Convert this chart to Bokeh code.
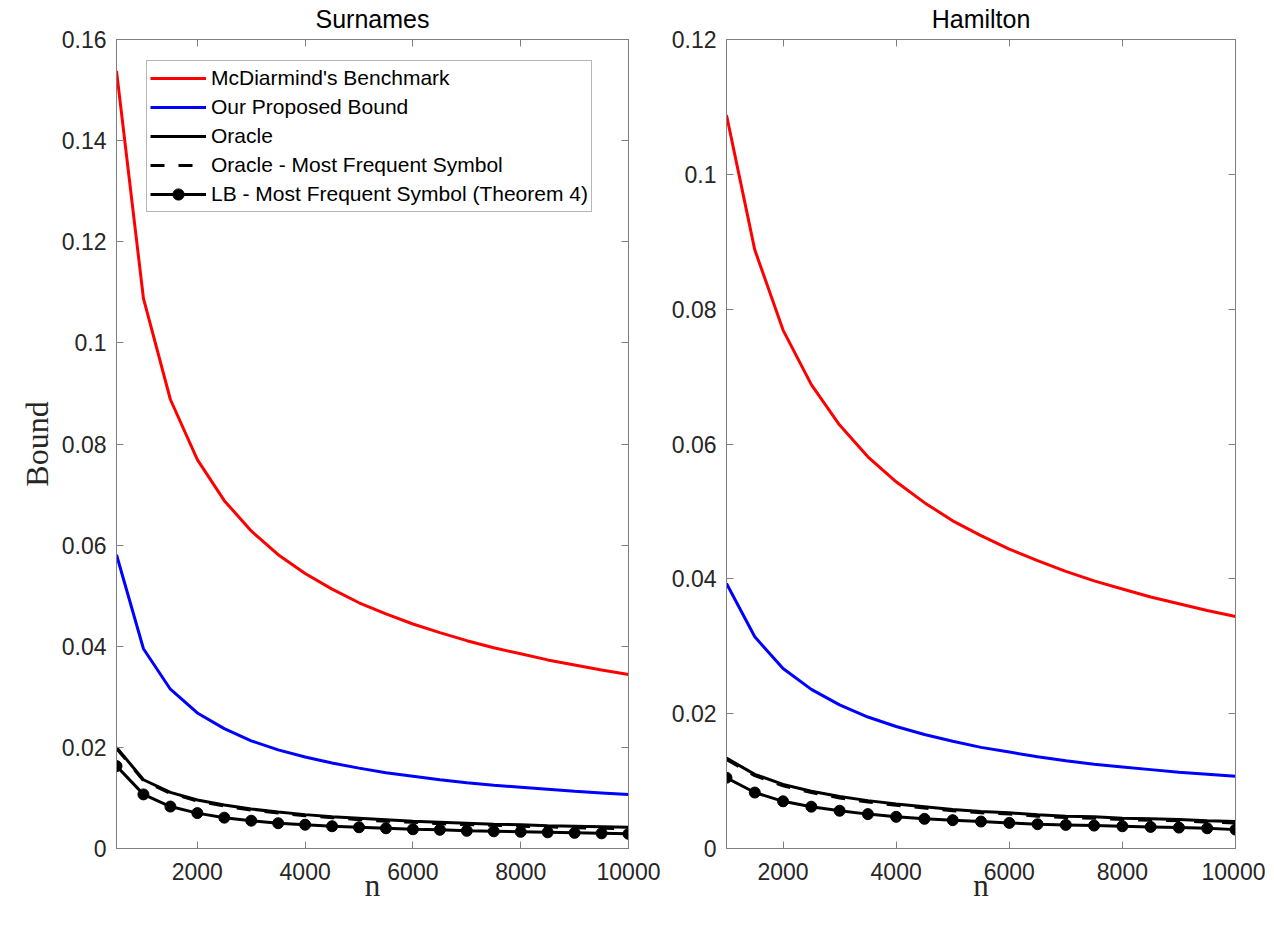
from bokeh.plotting import figure
from bokeh.layouts import row
from bokeh.models import (Range1d, FixedTicker, CustomJSTickFormatter, LinearAxis,
                          Legend, LegendItem)
from bokeh.embed import file_html
from bokeh.resources import INLINE

# ---------------- data ----------------
n_sur = [500, 1000, 1500, 2000, 2500, 3000, 3500, 4000, 4500, 5000,
         5500, 6000, 6500, 7000, 7500, 8000, 8500, 9000, 9500, 10000]
mcd_sur = [0.1538, 0.1088, 0.0888, 0.0769, 0.0688, 0.0628, 0.0581, 0.0544, 0.0513, 0.0486,
           0.0464, 0.0444, 0.0427, 0.0411, 0.0397, 0.0385, 0.0373, 0.0363, 0.0353, 0.0344]
ours_sur = [0.0581, 0.0395, 0.0315, 0.0268, 0.0237, 0.0213, 0.0195, 0.0181, 0.0169, 0.0159,
            0.0150, 0.0143, 0.0136, 0.0130, 0.0125, 0.0121, 0.0117, 0.0113, 0.0110, 0.0107]
oracle_sur = [0.0200, 0.0136, 0.0111, 0.0096, 0.0086, 0.0078, 0.0072, 0.0067, 0.0063, 0.0060,
              0.0057, 0.0054, 0.0052, 0.0050, 0.0048, 0.0047, 0.0045, 0.0044, 0.0043, 0.0042]
oracle_mfs_sur = [0.0198, 0.0134, 0.0109, 0.0094, 0.0084, 0.0076, 0.0070, 0.0065, 0.0061, 0.0057,
                  0.0054, 0.0052, 0.0049, 0.0047, 0.0046, 0.0044, 0.0043, 0.0041, 0.0040, 0.0039]
lb_sur = [0.0163, 0.0107, 0.0083, 0.0070, 0.0061, 0.0055, 0.0050, 0.0047, 0.0044, 0.0042,
          0.0040, 0.0038, 0.0037, 0.0035, 0.0034, 0.0033, 0.0032, 0.0031, 0.0030, 0.0029]

n_ham = [1000, 1500, 2000, 2500, 3000, 3500, 4000, 4500, 5000,
         5500, 6000, 6500, 7000, 7500, 8000, 8500, 9000, 9500, 10000]
mcd_ham = [0.1088, 0.0888, 0.0769, 0.0688, 0.0628, 0.0581, 0.0544, 0.0513, 0.0486,
           0.0464, 0.0444, 0.0427, 0.0411, 0.0397, 0.0385, 0.0373, 0.0363, 0.0353, 0.0344]
ours_ham = [0.0393, 0.0314, 0.0267, 0.0236, 0.0213, 0.0195, 0.0181, 0.0169, 0.0159,
            0.0150, 0.0143, 0.0136, 0.0130, 0.0125, 0.0121, 0.0117, 0.0113, 0.0110, 0.0107]
oracle_ham = [0.0134, 0.0110, 0.0095, 0.0085, 0.0077, 0.0071, 0.0066, 0.0062, 0.0058,
              0.0055, 0.0053, 0.0050, 0.0048, 0.0047, 0.0045, 0.0044, 0.0043, 0.0041, 0.0040]
oracle_mfs_ham = [0.0132, 0.0108, 0.0093, 0.0083, 0.0075, 0.0069, 0.0064, 0.0060, 0.0056,
                  0.0053, 0.0051, 0.0048, 0.0046, 0.0045, 0.0043, 0.0042, 0.0041, 0.0039, 0.0038]
lb_ham = [0.0105, 0.0083, 0.0070, 0.0062, 0.0056, 0.0051, 0.0047, 0.0044, 0.0042,
          0.0040, 0.0038, 0.0036, 0.0035, 0.0034, 0.0033, 0.0032, 0.0031, 0.0030, 0.0028]

x_ticks = [2000, 4000, 6000, 8000, 10000]
y_ticks_sur = [0, 0.02, 0.04, 0.06, 0.08, 0.1, 0.12, 0.14, 0.16]
y_ticks_ham = [0, 0.02, 0.04, 0.06, 0.08, 0.1, 0.12]

legend_labels = ["McDiarmind's Benchmark", "Our Proposed Bound", "Oracle",
                 "Oracle - Most Frequent Symbol", "LB - Most Frequent Symbol (Theorem 4)"]

AX = "#808080"
TXT = "#262626"
SANS = "Liberation Sans"
SERIF = "Liberation Serif"

yfmt_code = "return tick == 0 ? '0' : String(parseFloat(tick.toFixed(3)));"
xfmt_code = "return String(Math.round(tick));"
blank_code = "return '';"


def make_fig(title, n, mcd, ours, orc, orc_mfs, lb, xr, yr, yticks, width,
             bl, br, ylabel, with_legend):
    p = figure(width=width, height=919, output_backend="svg", toolbar_location=None,
               x_range=Range1d(*xr), y_range=Range1d(*yr),
               min_border_left=bl, min_border_right=br,
               min_border_top=39, min_border_bottom=71,
               x_axis_type=None, y_axis_type=None)
    p.grid.visible = False
    p.outline_line_color = AX
    p.outline_line_width = 1
    p.background_fill_color = "white"
    p.border_fill_color = "white"

    def style(ax, labels=True):
        ax.axis_line_color = AX
        ax.major_tick_line_color = AX
        ax.major_tick_in = 7
        ax.major_tick_out = 0
        ax.minor_tick_line_color = None
        ax.major_label_text_color = TXT
        ax.major_label_text_font = SANS
        ax.major_label_text_font_size = "23px"
        ax.major_label_standoff = 10 if labels else 0

    xb = LinearAxis(ticker=FixedTicker(ticks=x_ticks),
                    formatter=CustomJSTickFormatter(code=xfmt_code))
    style(xb)
    xb.major_label_standoff = 14
    xb.axis_label = "n"
    xb.axis_label_text_font = SERIF
    xb.axis_label_text_font_style = "normal"
    xb.axis_label_text_font_size = "31px"
    xb.axis_label_text_color = TXT
    xb.axis_label_standoff = -15
    p.add_layout(xb, "below")

    xa = LinearAxis(ticker=FixedTicker(ticks=x_ticks),
                    formatter=CustomJSTickFormatter(code=blank_code))
    style(xa, labels=False)
    xa.axis_label = title
    xa.axis_label_text_font = SANS
    xa.axis_label_text_font_style = "normal"
    xa.axis_label_text_font_size = "25px"
    xa.axis_label_text_color = "#000000"
    xa.axis_label_standoff = 7
    p.add_layout(xa, "above")

    yl = LinearAxis(ticker=FixedTicker(ticks=yticks),
                    formatter=CustomJSTickFormatter(code=yfmt_code))
    style(yl)
    if ylabel:
        yl.axis_label = ylabel
        yl.axis_label_text_font = SERIF
        yl.axis_label_text_font_style = "normal"
        yl.axis_label_text_font_size = "32px"
        yl.axis_label_text_color = TXT
        yl.axis_label_standoff = 4
    p.add_layout(yl, "left")

    yr_ax = LinearAxis(ticker=FixedTicker(ticks=yticks),
                       formatter=CustomJSTickFormatter(code=blank_code))
    style(yr_ax, labels=False)
    p.add_layout(yr_ax, "right")

    r1 = p.line(n, mcd, line_color="#ff0000", line_width=3)
    r2 = p.line(n, ours, line_color="#0000ff", line_width=3)
    r3 = p.line(n, orc, line_color="#000000", line_width=3)
    r4 = p.line(n, orc_mfs, line_color="#000000", line_width=3, line_dash="14 14")
    r5 = p.line(n, lb, line_color="#000000", line_width=3)
    r6 = p.scatter(n, lb, marker="circle", size=11, fill_color="#000000",
                   line_color="#000000")

    if with_legend:
        items = [LegendItem(label=legend_labels[0], renderers=[r1]),
                 LegendItem(label=legend_labels[1], renderers=[r2]),
                 LegendItem(label=legend_labels[2], renderers=[r3]),
                 LegendItem(label=legend_labels[3], renderers=[r4]),
                 LegendItem(label=legend_labels[4], renderers=[r5, r6])]
        leg = Legend(items=items, location=(30, 636))
        leg.label_text_font = SANS
        leg.label_text_font_size = "21px"
        leg.label_text_color = "#000000"
        leg.label_height = 28
        leg.glyph_height = 28
        leg.glyph_width = 56
        leg.label_standoff = 5
        leg.spacing = 1
        leg.padding = 3
        leg.margin = 0
        leg.border_line_color = "#707070"
        leg.border_line_width = 1
        leg.background_fill_color = "white"
        leg.background_fill_alpha = 1.0
        p.add_layout(leg, "center")
    return p


p1 = make_fig("Surnames", n_sur, mcd_sur, ours_sur, oracle_sur, oracle_mfs_sur, lb_sur,
              (500, 10000), (0, 0.16), y_ticks_sur, 660, 116, 32, "Bound", True)
p2 = make_fig("Hamilton", n_ham, mcd_ham, ours_ham, oracle_ham, oracle_mfs_ham, lb_ham,
              (1000, 10000), (0, 0.12), y_ticks_ham, 605, 66, 30, None, False)

layout = row(p1, p2)
open("out.html", "w").write(file_html(layout, INLINE))
